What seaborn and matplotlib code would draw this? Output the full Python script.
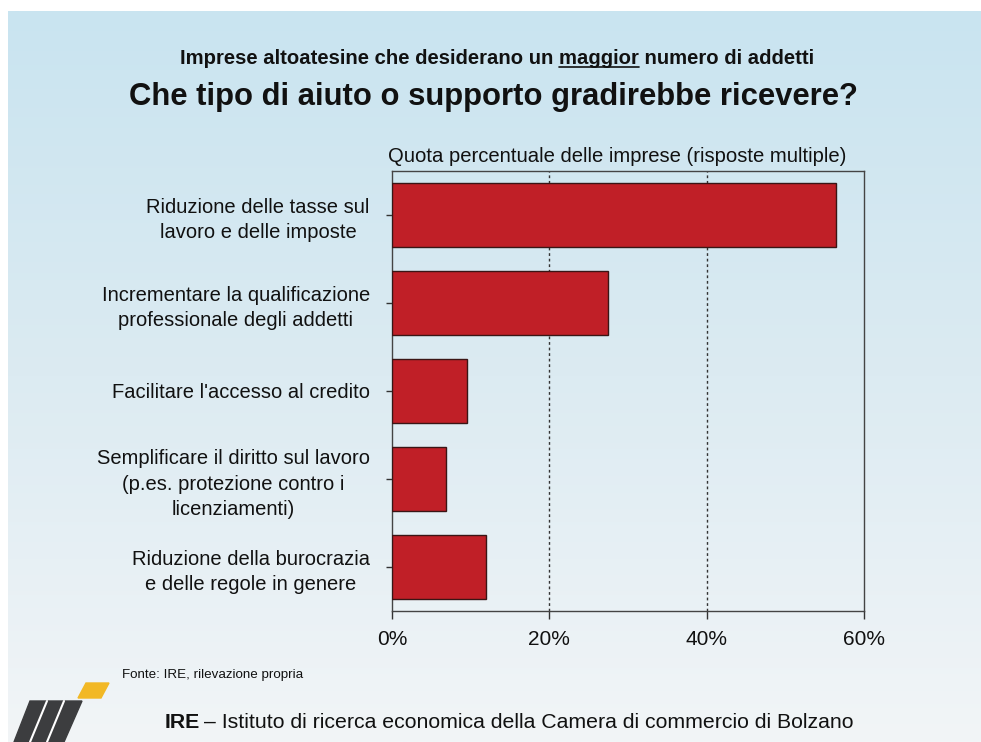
import matplotlib
matplotlib.use("Agg")
import matplotlib.pyplot as plt
from matplotlib.patches import Polygon
from matplotlib.colors import LinearSegmentedColormap
import seaborn as sns
import numpy as np
import pandas as pd

categorie = [
    "Riduzione delle tasse sul\nlavoro e delle imposte",
    "Incrementare la qualificazione\nprofessionale degli addetti",
    "Facilitare l'accesso al credito",
    "Semplificare il diritto sul lavoro\n(p.es. protezione contro i\nlicenziamenti)",
    "Riduzione della burocrazia\ne delle regole in genere",
]
quote = [56.5, 27.4, 9.5, 6.9, 12.0]
tick_vals = [0, 20, 40, 60]
tick_labels = ["0%", "20%", "40%", "60%"]

df = pd.DataFrame({"categoria": categorie, "quota": quote})

sns.set_theme(style="white")
plt.rcParams['font.family'] = ['Liberation Sans', 'DejaVu Sans']

W, H = 981, 742
fig = plt.figure(figsize=(W / 100, H / 100), dpi=100)
fig.patch.set_facecolor("white")

# sfondo sfumato della slide
bg = fig.add_axes([8 / W, 0, 1 - 8 / W, 1 - 11 / H], zorder=-10)
cmap = LinearSegmentedColormap.from_list("bg", ["#c9e4f0", "#dcebf2", "#f2f5f7"])
grad = np.linspace(0, 1, 256).reshape(-1, 1)
bg.imshow(grad, aspect="auto", cmap=cmap, extent=[0, 1, 0, 1], origin="upper")
bg.set_axis_off()

ax = fig.add_axes([392 / W, (H - 611) / H, 472 / W, 440 / H])
ax.set_facecolor("none")
sns.barplot(data=df, x="quota", y="categoria", color="#c01f27", width=0.72,
            edgecolor="#3a1515", linewidth=1.0, saturation=1, ax=ax, zorder=3)

ax.set_xlim(0, 60)
ax.set_ylim(4.5, -0.5)
ax.set_xticks(tick_vals)
ax.set_xticklabels(tick_labels, fontsize=15, color="#111111")
ax.set_yticks(range(len(categorie)))
ax.set_yticklabels(categorie, fontsize=14.5, color="#111111", ha="right", multialignment="center")
ax.tick_params(axis="y", pad=12, length=4, width=1, color="#333333", direction="out", left=True)
ax.tick_params(axis="x", pad=8, length=6, width=1, color="#333333", direction="out", bottom=True)
for lab in ax.get_yticklabels():
    lab.set_linespacing(1.42)
ax.set_xlabel("")
ax.set_ylabel("")
for s in ax.spines.values():
    s.set_visible(True)
    s.set_color("#444444")
    s.set_linewidth(1.0)
for v in [20, 40]:
    ax.axvline(v, color="#333333", linestyle=(0, (2, 2)), linewidth=1.0, zorder=1)

# etichetta asse
fig.text(617 / W, 1 - 156 / H, "Quota percentuale delle imprese (risposte multiple)",
         ha="center", va="center", fontsize=14.6, color="#111111")

# titoli
sub_fs = 14.6
sub = fig.text(497 / W, 1 - 58 / H, "Imprese altoatesine che desiderano un maggior numero di addetti",
               ha="center", va="center", fontsize=sub_fs, fontweight="bold", color="#111111")
fig.text(493 / W, 1 - 97 / H, "Che tipo di aiuto o supporto gradirebbe ricevere?",
         ha="center", va="center", fontsize=22.3, fontweight="bold", color="#111111")

# sottolineatura di "maggior"
fig.canvas.draw()
r = fig.canvas.get_renderer()
full = sub.get_window_extent(r)
tmp = fig.text(0, 0, "Imprese altoatesine che desiderano un ", fontsize=sub_fs, fontweight="bold")
w_pre = tmp.get_window_extent(r).width
tmp.set_text("maggior")
w_word = tmp.get_window_extent(r).width
tmp.remove()
x0 = full.x0 + w_pre
y_u = full.y0 + 1
fig.add_artist(plt.Line2D([x0 / W, (x0 + w_word) / W], [y_u / H, y_u / H], color="#111111", lw=1.2))

# fonte e piè di pagina
fig.text(122 / W, 1 - 675 / H, "Fonte: IRE, rilevazione propria", ha="left", va="center",
         fontsize=9.6, color="#111111")
t1 = fig.text(165 / W, 1 - 722 / H, "IRE", ha="left", va="center", fontsize=15.3,
              fontweight="bold", color="#111111")
fig.canvas.draw()
x_ire = t1.get_window_extent(r).x1
fig.text((x_ire + 4) / W, 1 - 722 / H,
         "– Istituto di ricerca economica della Camera di commercio di Bolzano",
         ha="left", va="center", fontsize=15.3, color="#111111")

# logo IRE stilizzato
logo = fig.add_axes([0, 0, 1, 1], zorder=5)
logo.set_xlim(0, W)
logo.set_ylim(H, 0)
logo.set_axis_off()
logo.add_patch(Polygon([(86, 683), (109, 683), (101, 698), (78, 698)], closed=True, color="#f2b825"))
logo.add_patch(Polygon([(30, 701), (82, 701), (64, 742), (14, 742)], closed=True, color="#3c3d3f"))
logo.plot([47, 30], [701, 742], color="white", lw=1.5)
logo.plot([64, 47], [701, 742], color="white", lw=1.5)

fig.savefig("out.png", dpi=100)
